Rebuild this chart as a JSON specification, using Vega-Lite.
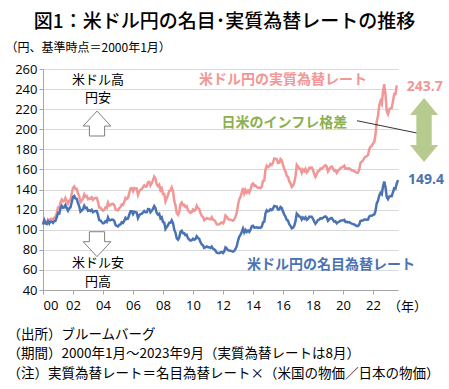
{
  "$schema": "https://vega.github.io/schema/vega-lite/v6.json",
  "width": 355,
  "height": 221,
  "autosize": {"type": "none"},
  "padding": {"left": 43, "top": 69, "right": 51, "bottom": 99},
  "background": "white",
  "title": {
    "text": "図1：米ドル円の名目･実質為替レートの推移",
    "font": "Noto Sans CJK JP",
    "fontSize": 19,
    "fontWeight": 500,
    "color": "#000000",
    "anchor": "middle",
    "frame": "group",
    "dx": 4,
    "dy": -3,
    "offset": 6
  },
  "config": {
    "view": {"stroke": null},
    "axisX": {
      "grid": false,
      "domainColor": "#A6A6A6",
      "tickColor": "#A6A6A6",
      "tickSize": 4,
      "labelFont": "Open Sans",
      "labelFontSize": 13,
      "labelColor": "#000000",
      "labelPadding": 5,
      "labelOverlap": false,
      "titleFont": "Noto Sans CJK JP",
      "titleFontSize": 13.5,
      "titleFontWeight": "normal",
      "titleColor": "#000000",
      "titleAlign": "left",
      "titleBaseline": "top",
      "titleAnchor": "start",
      "titleX": -36,
      "titleY": 37,
      "titleLineHeight": 19.5
    },
    "axisY": {
      "grid": true,
      "gridColor": "#D9D9D9",
      "domainColor": "#A6A6A6",
      "tickColor": "#A6A6A6",
      "tickSize": 4,
      "labelFont": "Open Sans",
      "labelFontSize": 13,
      "labelColor": "#000000",
      "labelPadding": 2,
      "titleFont": "Noto Sans CJK JP",
      "titleFontSize": 12,
      "titleFontWeight": "normal",
      "titleColor": "#000000",
      "titleAngle": 0,
      "titleAlign": "left",
      "titleBaseline": "middle",
      "titleX": -38,
      "titleY": -22
    }
  },
  "datasets": {
    "rates": [
      {"d":"2000-01","名目":105.2,"実質":105.2},{"d":"2000-02","名目":109.3,"実質":109.7},{"d":"2000-03","名目":106.3,"実質":107.1},{"d":"2000-04","名目":105.6,"実質":106.8},{"d":"2000-05","名目":108.3,"実質":109.9},{"d":"2000-06","名目":106.1,"実質":108.1},{"d":"2000-07","名目":108.2,"実質":110.7},{"d":"2000-08","名目":108.1,"実質":110.9},{"d":"2000-09","名目":106.8,"実質":110.0},{"d":"2000-10","名目":108.4,"実質":112.1},{"d":"2000-11","名目":108.9,"実質":113.0},{"d":"2000-12","名目":112.2,"実質":116.8},
      {"d":"2001-01","名目":116.7,"実質":122.0},{"d":"2001-02","名目":116.1,"実質":121.6},{"d":"2001-03","名目":121.2,"実質":127.1},{"d":"2001-04","名目":123.8,"実質":130.1},{"d":"2001-05","名目":121.8,"実質":128.3},{"d":"2001-06","名目":122.2,"実質":128.9},{"d":"2001-07","名目":124.6,"実質":131.6},{"d":"2001-08","名目":121.5,"実質":128.5},{"d":"2001-09","名目":118.9,"実質":126.0},{"d":"2001-10","名目":121.3,"実質":128.8},{"d":"2001-11","名目":122.4,"実質":130.2},{"d":"2001-12","名目":127.6,"実質":136.0},
      {"d":"2002-01","名目":132.7,"実質":141.7},{"d":"2002-02","名目":133.6,"実質":143.1},{"d":"2002-03","名目":131.1,"実質":140.7},{"d":"2002-04","名目":130.8,"実質":140.7},{"d":"2002-05","名目":126.4,"実質":136.3},{"d":"2002-06","名目":123.3,"実質":133.3},{"d":"2002-07","名目":117.9,"実質":127.7},{"d":"2002-08","名目":119.0,"実質":129.2},{"d":"2002-09","名目":120.5,"実質":131.1},{"d":"2002-10","名目":123.9,"実質":135.2},{"d":"2002-11","名目":121.6,"実質":132.9},{"d":"2002-12","名目":121.9,"実質":133.6},
      {"d":"2003-01","名目":118.8,"実質":130.4},{"d":"2003-02","名目":119.3,"実質":131.2},{"d":"2003-03","名目":118.7,"実質":130.8},{"d":"2003-04","名目":119.9,"実質":132.3},{"d":"2003-05","名目":117.4,"実質":129.7},{"d":"2003-06","名目":118.3,"実質":131.0},{"d":"2003-07","名目":118.7,"実質":131.6},{"d":"2003-08","名目":118.7,"実質":131.8},{"d":"2003-09","名目":114.8,"実質":127.7},{"d":"2003-10","名目":109.5,"実質":122.0},{"d":"2003-11","名目":109.2,"実質":121.9},{"d":"2003-12","名目":107.7,"実質":120.3},
      {"d":"2004-01","名目":106.3,"実質":119.0},{"d":"2004-02","名目":106.7,"実質":119.7},{"d":"2004-03","名目":108.5,"実質":122.1},{"d":"2004-04","名目":107.7,"実質":121.5},{"d":"2004-05","名目":112.2,"実質":126.9},{"d":"2004-06","名目":109.4,"実質":124.1},{"d":"2004-07","名目":109.4,"実質":124.4},{"d":"2004-08","名目":110.2,"実質":125.6},{"d":"2004-09","名目":110.0,"実質":125.7},{"d":"2004-10","名目":108.8,"実質":124.7},{"d":"2004-11","名目":104.7,"実質":120.3},{"d":"2004-12","名目":103.8,"実質":119.6},
      {"d":"2005-01","名目":103.3,"実質":119.3},{"d":"2005-02","名目":104.9,"実質":121.6},{"d":"2005-03","名目":105.3,"実質":122.4},{"d":"2005-04","名目":107.4,"実質":125.2},{"d":"2005-05","名目":106.6,"実質":124.6},{"d":"2005-06","名目":108.8,"実質":127.6},{"d":"2005-07","名目":111.9,"実質":131.7},{"d":"2005-08","名目":110.6,"実質":130.5},{"d":"2005-09","名目":111.2,"実質":131.7},{"d":"2005-10","名目":114.9,"実質":136.4},{"d":"2005-11","名目":118.5,"実質":141.1},{"d":"2005-12","名目":118.5,"実質":141.5},
      {"d":"2006-01","名目":115.5,"実質":138.4},{"d":"2006-02","名目":117.9,"実質":141.5},{"d":"2006-03","名目":117.3,"実質":141.0},{"d":"2006-04","名目":117.1,"実質":141.0},{"d":"2006-05","名目":111.7,"実質":134.7},{"d":"2006-06","名目":114.5,"実質":138.3},{"d":"2006-07","名目":115.6,"実質":139.9},{"d":"2006-08","名目":115.9,"実質":140.5},{"d":"2006-09","名目":117.2,"実質":142.3},{"d":"2006-10","名目":118.6,"実質":144.2},{"d":"2006-11","名目":117.3,"実質":142.9},{"d":"2006-12","名目":117.3,"実質":143.1},
      {"d":"2007-01","名目":120.6,"実質":147.4},{"d":"2007-02","名目":120.5,"実質":147.6},{"d":"2007-03","名目":117.3,"実質":144.0},{"d":"2007-04","名目":118.8,"実質":146.2},{"d":"2007-05","名目":120.8,"実質":149.1},{"d":"2007-06","名目":123.5,"実質":152.8},{"d":"2007-07","名目":121.6,"実質":150.9},{"d":"2007-08","名目":116.7,"実質":145.2},{"d":"2007-09","名目":115.0,"実質":143.4},{"d":"2007-10","名目":115.8,"実質":144.8},{"d":"2007-11","名目":111.2,"実質":139.3},{"d":"2007-12","名目":112.3,"実質":141.1},
      {"d":"2008-01","名目":107.6,"実質":135.5},{"d":"2008-02","名目":107.1,"実質":135.5},{"d":"2008-03","名目":100.8,"実質":128.2},{"d":"2008-04","名目":102.7,"実質":131.4},{"d":"2008-05","名目":104.4,"実質":134.4},{"d":"2008-06","名目":106.9,"実質":138.4},{"d":"2008-07","名目":106.9,"実質":139.2},{"d":"2008-08","名目":109.4,"実質":142.0},{"d":"2008-09","名目":106.6,"実質":138.2},{"d":"2008-10","名目":100.1,"実質":129.0},{"d":"2008-11","名目":96.9,"実質":123.9},{"d":"2008-12","名目":91.3,"実質":116.4},
      {"d":"2009-01","名目":90.1,"実質":114.9},{"d":"2009-02","名目":92.5,"実質":118.3},{"d":"2009-03","名目":97.8,"実質":125.4},{"d":"2009-04","名目":98.9,"実質":127.2},{"d":"2009-05","名目":96.6,"実質":124.5},{"d":"2009-06","名目":96.6,"実質":124.9},{"d":"2009-07","名目":94.5,"実質":122.6},{"d":"2009-08","名目":94.9,"実質":123.4},{"d":"2009-09","名目":91.4,"実質":119.2},{"d":"2009-10","名目":90.3,"実質":118.0},{"d":"2009-11","名目":89.1,"実質":116.8},{"d":"2009-12","名目":89.5,"実質":117.7},
      {"d":"2010-01","名目":91.1,"実質":120.1},{"d":"2010-02","名目":90.1,"実質":118.9},{"d":"2010-03","名目":90.7,"実質":119.9},{"d":"2010-04","名目":93.5,"実質":123.8},{"d":"2010-05","名目":91.8,"実質":121.7},{"d":"2010-06","名目":90.9,"実質":120.7},{"d":"2010-07","名目":87.7,"実質":116.7},{"d":"2010-08","名目":85.4,"実質":113.8},{"d":"2010-09","名目":84.4,"実質":112.7},{"d":"2010-10","名目":81.8,"実質":109.4},{"d":"2010-11","名目":82.6,"実質":110.6},{"d":"2010-12","名目":83.3,"実質":111.7},
      {"d":"2011-01","名目":82.6,"実質":110.9},{"d":"2011-02","名目":82.5,"実質":111.0},{"d":"2011-03","名目":81.8,"実質":110.4},{"d":"2011-04","名目":83.2,"実質":112.6},{"d":"2011-05","名目":81.2,"実質":110.1},{"d":"2011-06","名目":80.5,"実質":109.5},{"d":"2011-07","名目":79.3,"実質":108.1},{"d":"2011-08","名目":77.1,"実質":105.3},{"d":"2011-09","名目":76.8,"実質":105.2},{"d":"2011-10","名目":76.7,"実質":105.3},{"d":"2011-11","名目":77.5,"実質":106.6},{"d":"2011-12","名目":77.8,"実質":107.4},
      {"d":"2012-01","名目":76.9,"実質":106.4},{"d":"2012-02","名目":78.5,"実質":108.6},{"d":"2012-03","名目":82.4,"実質":114.2},{"d":"2012-04","名目":81.4,"実質":112.9},{"d":"2012-05","名目":79.7,"実質":110.7},{"d":"2012-06","名目":79.3,"実質":110.2},{"d":"2012-07","名目":79.0,"実質":109.9},{"d":"2012-08","名目":78.7,"実質":109.6},{"d":"2012-09","名目":78.2,"実質":109.0},{"d":"2012-10","名目":79.0,"実質":110.3},{"d":"2012-11","名目":80.9,"実質":113.0},{"d":"2012-12","名目":83.6,"実質":117.0},
      {"d":"2013-01","名目":89.2,"実質":124.9},{"d":"2013-02","名目":93.2,"実質":130.5},{"d":"2013-03","名目":94.8,"実質":132.7},{"d":"2013-04","名目":97.8,"実質":136.9},{"d":"2013-05","名目":101.1,"実質":141.5},{"d":"2013-06","名目":97.3,"実質":136.2},{"d":"2013-07","名目":99.7,"実質":139.6},{"d":"2013-08","名目":97.8,"実質":136.9},{"d":"2013-09","名目":99.2,"実質":138.9},{"d":"2013-10","名目":97.8,"実質":136.9},{"d":"2013-11","名目":100.1,"実質":140.1},{"d":"2013-12","名目":103.5,"実質":144.9},
      {"d":"2014-01","名目":103.9,"実質":146.0},{"d":"2014-02","名目":102.1,"実質":143.6},{"d":"2014-03","名目":102.3,"実質":144.0},{"d":"2014-04","名目":102.5,"実質":142.7},{"d":"2014-05","名目":101.8,"実質":141.6},{"d":"2014-06","名目":102.1,"実質":141.9},{"d":"2014-07","名目":101.8,"実質":141.3},{"d":"2014-08","名目":102.9,"実質":142.6},{"d":"2014-09","名目":107.4,"実質":148.5},{"d":"2014-10","名目":108.0,"実質":149.0},{"d":"2014-11","名目":116.3,"実質":159.9},{"d":"2014-12","名目":119.4,"実質":163.6},
      {"d":"2015-01","名目":118.3,"実質":162.3},{"d":"2015-02","名目":118.8,"実質":163.2},{"d":"2015-03","名目":120.4,"実質":165.6},{"d":"2015-04","名目":119.5,"実質":164.6},{"d":"2015-05","名目":120.8,"実質":166.6},{"d":"2015-06","名目":123.7,"実質":170.8},{"d":"2015-07","名目":123.3,"実質":170.4},{"d":"2015-08","名目":123.1,"実質":170.4},{"d":"2015-09","名目":120.1,"実質":166.5},{"d":"2015-10","名目":120.1,"実質":166.6},{"d":"2015-11","名目":122.6,"実質":170.3},{"d":"2015-12","名目":121.6,"実質":169.1},
      {"d":"2016-01","名目":118.2,"実質":164.5},{"d":"2016-02","名目":115.0,"実質":160.3},{"d":"2016-03","名目":113.1,"実質":158.0},{"d":"2016-04","名目":109.8,"実質":153.6},{"d":"2016-05","名目":109.0,"実質":152.7},{"d":"2016-06","名目":105.5,"実質":148.1},{"d":"2016-07","名目":103.9,"実質":146.1},{"d":"2016-08","名目":101.3,"実質":142.6},{"d":"2016-09","名目":101.9,"実質":143.8},{"d":"2016-10","名目":103.9,"実質":146.8},{"d":"2016-11","名目":108.5,"実質":153.5},{"d":"2016-12","名目":116.1,"実質":164.6},
      {"d":"2017-01","名目":114.7,"実質":162.9},{"d":"2017-02","名目":113.1,"実質":160.7},{"d":"2017-03","名目":112.9,"実質":160.7},{"d":"2017-04","名目":110.1,"実質":156.8},{"d":"2017-05","名目":112.2,"実質":160.0},{"d":"2017-06","名目":110.9,"実質":158.3},{"d":"2017-07","名目":112.4,"実質":160.6},{"d":"2017-08","名目":109.8,"実質":157.0},{"d":"2017-09","名目":110.8,"実質":158.6},{"d":"2017-10","名目":112.9,"実質":161.8},{"d":"2017-11","名目":112.8,"実質":161.8},{"d":"2017-12","名目":112.9,"実質":162.1},
      {"d":"2018-01","名目":110.9,"実質":159.4},{"d":"2018-02","名目":107.9,"実質":155.2},{"d":"2018-03","名目":106.0,"実質":152.6},{"d":"2018-04","名目":107.6,"実質":155.1},{"d":"2018-05","名目":109.7,"実質":158.2},{"d":"2018-06","名目":110.0,"実質":158.7},{"d":"2018-07","名目":111.4,"実質":161.0},{"d":"2018-08","名目":111.0,"実質":160.5},{"d":"2018-09","名目":112.0,"実質":162.1},{"d":"2018-10","名目":112.8,"実質":163.3},{"d":"2018-11","名目":113.3,"実質":164.3},{"d":"2018-12","名目":112.2,"実質":162.8},
      {"d":"2019-01","名目":108.9,"実質":158.1},{"d":"2019-02","名目":110.4,"実質":160.6},{"d":"2019-03","名目":111.2,"実質":162.1},{"d":"2019-04","名目":111.6,"実質":163.0},{"d":"2019-05","名目":110.0,"実質":161.0},{"d":"2019-06","名目":108.1,"実質":158.6},{"d":"2019-07","名目":108.3,"実質":159.2},{"d":"2019-08","名目":106.3,"実質":156.6},{"d":"2019-09","名目":107.5,"実質":158.7},{"d":"2019-10","名目":108.1,"実質":159.9},{"d":"2019-11","名目":108.9,"実質":161.4},{"d":"2019-12","名目":109.1,"実質":162.0},
      {"d":"2020-01","名目":109.3,"実質":162.6},{"d":"2020-02","名目":109.9,"実質":163.8},{"d":"2020-03","名目":107.7,"実質":160.7},{"d":"2020-04","名目":107.8,"実質":161.1},{"d":"2020-05","名目":107.2,"実質":160.4},{"d":"2020-06","名目":107.6,"実質":161.2},{"d":"2020-07","名目":106.7,"実質":160.1},{"d":"2020-08","名目":106.0,"実質":159.2},{"d":"2020-09","名目":105.6,"実質":158.8},{"d":"2020-10","名目":105.2,"実質":158.4},{"d":"2020-11","名目":104.4,"実質":157.4},{"d":"2020-12","名目":103.8,"実質":156.7},
      {"d":"2021-01","名目":103.8,"実質":156.9},{"d":"2021-02","名目":105.4,"実質":160.3},{"d":"2021-03","名目":108.7,"実質":166.3},{"d":"2021-04","名目":109.1,"実質":167.9},{"d":"2021-05","名目":109.1,"実質":168.9},{"d":"2021-06","名目":110.1,"実質":171.4},{"d":"2021-07","名目":110.2,"実質":172.6},{"d":"2021-08","名目":109.9,"実質":173.1},{"d":"2021-09","名目":110.1,"実質":174.4},{"d":"2021-10","名目":113.1,"実質":180.2},{"d":"2021-11","名目":114.0,"実質":182.6},{"d":"2021-12","名目":113.9,"実質":183.5},
      {"d":"2022-01","名目":114.8,"実質":186.0},{"d":"2022-02","名目":115.2,"実質":187.5},{"d":"2022-03","名目":118.5,"実質":194.3},{"d":"2022-04","名目":126.2,"実質":207.5},{"d":"2022-05","名目":128.8,"実質":213.2},{"d":"2022-06","名目":133.9,"実質":223.6},{"d":"2022-07","名目":136.6,"実質":227.8},{"d":"2022-08","名目":135.3,"実質":225.1},{"d":"2022-09","名目":143.1,"実質":237.8},{"d":"2022-10","名目":148.0,"実質":244.9},{"d":"2022-11","名目":142.2,"実質":234.6},{"d":"2022-12","名目":132.5,"実質":218.0},
      {"d":"2023-01","名目":130.4,"実質":215.0},{"d":"2023-02","名目":133.0,"実質":219.7},{"d":"2023-03","名目":133.5,"実質":220.9},{"d":"2023-04","名目":133.4,"実質":221.2},{"d":"2023-05","名目":137.1,"実質":227.7},{"d":"2023-06","名目":141.2,"実質":235.0},{"d":"2023-07","名目":140.9,"実質":234.9},{"d":"2023-08","名目":145.8,"実質":243.7},{"d":"2023-09","名目":149.4,"実質":null}
    ],
    "notes": [
      {"d":"2003-09-01","v":249.1,"label":"米ドル高","role":"direction"},
      {"d":"2003-09-01","v":231.6,"label":"円安","role":"direction"},
      {"d":"2003-09-01","v":66.6,"label":"米ドル安","role":"direction"},
      {"d":"2003-09-01","v":47.5,"label":"円高","role":"direction"},
      {"d":"2016-01-01","v":249.1,"label":"米ドル円の実質為替レート","series":"実質","role":"name"},
      {"d":"2016-02-03","v":206.7,"label":"日米のインフレ格差","series":"格差","role":"name"},
      {"d":"2019-03-14","v":64.9,"label":"米ドル円の名目為替レート","series":"名目","role":"name"},
      {"d":"2024-04-01","v":242.4,"label":"243.7","series":"実質","role":"last"},
      {"d":"2024-05-01","v":149.5,"label":"149.4","series":"名目","role":"last"},
      {"d":"2023-01-01","v":23.1,"label":"（年）","role":"unit"}
    ],
    "arrows": [
      {"d":"2003-08-08","v":205.7,"dir":"up"},
      {"d":"2003-08-08","v":85.6,"dir":"down"}
    ],
    "gap": [{"d":"2025-05-27","v":199.3}],
    "leader": [{"d":"2020-12-06","v":208.5,"d2":"2025-04-01","v2":195.3}]
  },
  "encoding": {
    "x": {
      "field": "d",
      "type": "temporal",
      "scale": {"type": "utc", "domain": [{"year": 2000, "month": 1, "date": 1, "utc": true}, {"year": 2023, "month": 9, "date": 1, "utc": true}]},
      "axis": {
        "labelExpr": "utcFormat(datum.value, '%y')",
        "tickCount": {"interval": "year", "step": 2},
        "title": ["（出所）ブルームバーグ", "（期間）2000年1月～2023年9月（実質為替レートは8月）", "（注）実質為替レート＝名目為替レート×（米国の物価／日本の物価）"]
      }
    },
    "y": {
      "field": "v",
      "type": "quantitative",
      "scale": {"domain": [40, 260], "nice": false, "zero": false},
      "axis": {
        "tickCount": 12,
        "values": [40, 60, 80, 100, 120, 140, 160, 180, 200, 220, 240, 260],
        "labelOverlap": false,
        "title": "（円、基準時点＝2000年1月）"
      }
    }
  },
  "layer": [
    {
      "data": {"name": "rates"},
      "transform": [{"fold": ["実質", "名目"], "as": ["series", "v"]}],
      "mark": {"type": "line", "strokeWidth": 2.5},
      "encoding": {
        "color": {"field": "series", "type": "nominal", "scale": {"domain": ["実質", "名目", "格差"], "range": ["#F29696", "#4A73B3", "#8DB04F"]}, "legend": null}
      }
    },
    {
      "data": {"name": "leader"},
      "mark": {"type": "rule", "color": "#000000", "strokeWidth": 0.8},
      "encoding": {
        "x2": {"field": "d2"},
        "y2": {"field": "v2"}
      }
    },
    {
      "data": {"name": "gap"},
      "mark": {"type": "point", "filled": true, "fill": "#B7CB8E", "opacity": 1, "strokeWidth": 0, "size": 4096, "shape": "M0,-1L0.44,-0.47L0.24,-0.47L0.24,0.47L0.44,0.47L0,1L-0.44,0.47L-0.24,0.47L-0.24,-0.47L-0.44,-0.47Z"},
      "encoding": {}
    },
    {
      "data": {"name": "arrows"},
      "mark": {"type": "point", "filled": true, "fill": "#FFFFFF", "stroke": "#7F7F7F", "strokeWidth": 1, "opacity": 1, "size": 767},
      "encoding": {
        "shape": {
          "field": "dir",
          "type": "nominal",
          "scale": {"domain": ["up", "down"], "range": ["M0,-0.9L1,0.18L0.55,0.18L0.55,0.9L-0.55,0.9L-0.55,0.18L-1,0.18Z", "M0,0.9L1,-0.18L0.55,-0.18L0.55,-0.9L-0.55,-0.9L-0.55,-0.18L-1,-0.18Z"]},
          "legend": null
        }
      }
    },
    {
      "data": {"name": "notes"},
      "transform": [{"filter": "datum.role === 'direction'"}],
      "mark": {"type": "text", "font": "Noto Sans CJK JP", "fontSize": 13, "color": "#000000", "align": "center", "baseline": "middle"},
      "encoding": {"text": {"field": "label"}}
    },
    {
      "data": {"name": "notes"},
      "transform": [{"filter": "datum.role === 'unit'"}],
      "mark": {"type": "text", "font": "Noto Sans CJK JP", "fontSize": 13, "color": "#000000", "align": "left", "baseline": "middle"},
      "encoding": {"text": {"field": "label"}}
    },
    {
      "data": {"name": "notes"},
      "transform": [{"filter": "datum.role === 'name'"}],
      "mark": {"type": "text", "font": "Noto Sans CJK JP", "fontSize": 14, "fontWeight": "bold", "align": "center", "baseline": "middle"},
      "encoding": {
        "text": {"field": "label"},
        "color": {"field": "series", "type": "nominal", "legend": null}
      }
    },
    {
      "data": {"name": "notes"},
      "transform": [{"filter": "datum.role === 'last'"}],
      "mark": {"type": "text", "font": "Open Sans", "fontSize": 14, "fontWeight": "bold", "align": "left", "baseline": "middle"},
      "encoding": {
        "text": {"field": "label"},
        "color": {"field": "series", "type": "nominal", "legend": null}
      }
    }
  ]
}
